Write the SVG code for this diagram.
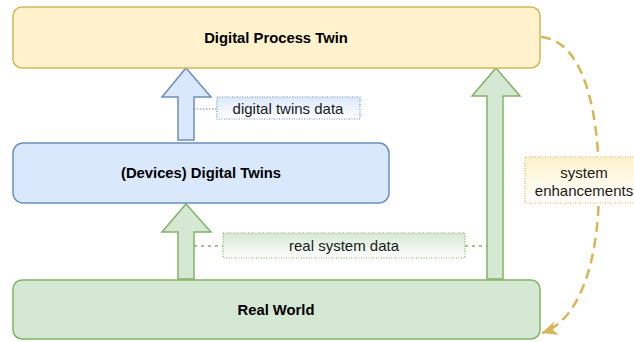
<svg xmlns="http://www.w3.org/2000/svg" width="634" height="342" viewBox="0 0 634 342">
  <defs>
    <linearGradient id="gBlue" x1="0" y1="0" x2="0" y2="1">
      <stop offset="0" stop-color="#dae8fc"/>
      <stop offset="1" stop-color="#ffffff"/>
    </linearGradient>
    <linearGradient id="gGreen" x1="0" y1="0" x2="0" y2="1">
      <stop offset="0" stop-color="#d5e8d4"/>
      <stop offset="1" stop-color="#ffffff"/>
    </linearGradient>
    <linearGradient id="gYellow" x1="0" y1="0" x2="0" y2="1">
      <stop offset="0" stop-color="#fff2cc"/>
      <stop offset="1" stop-color="#ffffff"/>
    </linearGradient>
    <marker id="arrowGold" markerUnits="userSpaceOnUse" markerWidth="16" markerHeight="14" viewBox="0 0 16 14" refX="15" refY="7" orient="auto">
      <path d="M0 0 L15 7 L0 14 L4 7 Z" fill="#d6b656"/>
    </marker>
  </defs>
  <style>
    .title { font-family: "Liberation Sans", Arial, sans-serif; font-size: 14.8px; font-weight: bold; fill: #000; text-anchor: middle; }
    .label { font-family: "Liberation Sans", Arial, sans-serif; font-size: 15px; fill: #1a1a1a; text-anchor: middle; }
    .yellow { fill: #fff2cc; stroke: #d6b656; stroke-width: 1.5; }
    .blue { fill: #dae8fc; stroke: #6c8ebf; stroke-width: 1.5; }
    .green { fill: #d5e8d4; stroke: #82b366; stroke-width: 1.5; }
    .tag { stroke-width: 1.2; stroke-dasharray: 1 1.5; }
  </style>

  <!-- connectors -->
  <g id="connectors">
    <!-- dotted leaders from the arrows to their labels -->
    <line x1="194" y1="109" x2="217" y2="109" stroke="#6c8ebf" stroke-width="1.2" stroke-dasharray="1.5 1.5"/>
    <line x1="194" y1="246" x2="223" y2="246" stroke="#82b366" stroke-width="1.5" stroke-dasharray="3 4"/>
    <line x1="465" y1="246" x2="487" y2="246" stroke="#82b366" stroke-width="1.5" stroke-dasharray="3 4"/>
    <!-- feedback loop: process twin back to real world -->
    <path d="M541 37 C580 40, 598 100, 599 180 C600 260, 580 320, 542 333" fill="none" stroke="#d6b656" stroke-width="2.5" stroke-dasharray="10 6" marker-end="url(#arrowGold)"/>
    <!-- block arrows -->
    <path class="blue" d="M186 68 L211 97 L194 97 L194 140 L178 140 L178 97 L162 97 Z"/>
    <path class="green" d="M186 204 L211 232 L194 232 L194 279 L178 279 L178 232 L162 232 Z"/>
    <path class="green" d="M496 68 L520 96 L503 96 L503 279 L487 279 L487 96 L472 96 Z"/>
  </g>

  <g id="digital-process-twin">
    <rect class="yellow" x="13" y="7" width="527" height="61" rx="9" ry="9"/>
    <text class="title" x="276" y="43">Digital Process Twin</text>
  </g>

  <g id="devices-digital-twins">
    <rect class="blue" x="13" y="143" width="376" height="60" rx="10" ry="10"/>
    <text class="title" x="201" y="178">(Devices) Digital Twins</text>
  </g>

  <g id="real-world">
    <rect class="green" x="13" y="280" width="527" height="59" rx="9" ry="9"/>
    <text class="title" x="276" y="315">Real World</text>
  </g>

  <g id="label-digital-twins-data">
    <rect class="tag" x="217" y="97" width="143" height="22" fill="url(#gBlue)" stroke="#6c8ebf"/>
    <text class="label" x="288" y="113.5">digital twins data</text>
  </g>

  <g id="label-real-system-data">
    <rect class="tag" x="223" y="233" width="242" height="25" fill="url(#gGreen)" stroke="#82b366"/>
    <text class="label" x="344" y="251">real system data</text>
  </g>

  <g id="label-system-enhancements">
    <rect class="tag" x="525" y="157" width="120" height="46" fill="url(#gYellow)" stroke="#d6b656"/>
    <text class="label" x="584" y="178">system</text>
    <text class="label" x="584" y="195.5">enhancements</text>
  </g>
</svg>
